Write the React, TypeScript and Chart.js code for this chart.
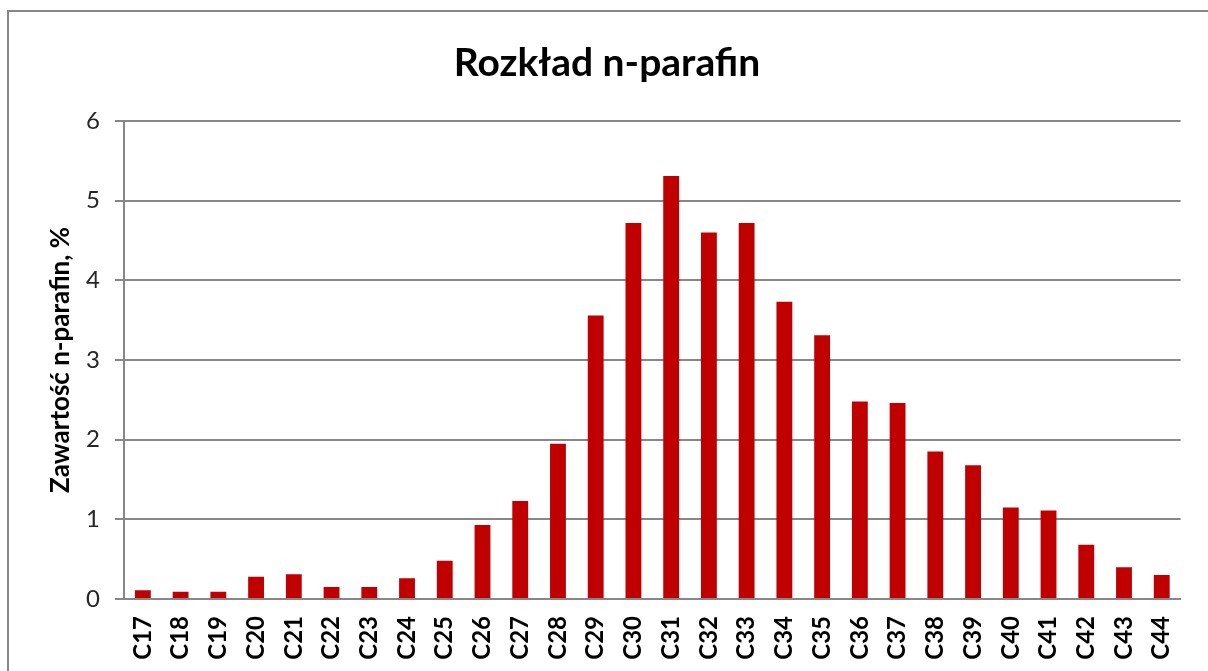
import React, { useEffect, useRef } from "react";
import { Chart, registerables } from "chart.js";

Chart.register(...registerables);

const categories = [
  "C17", "C18", "C19", "C20", "C21", "C22", "C23", "C24", "C25", "C26",
  "C27", "C28", "C29", "C30", "C31", "C32", "C33", "C34", "C35", "C36",
  "C37", "C38", "C39", "C40", "C41", "C42", "C43", "C44",
];
const values = [
  0.11, 0.09, 0.09, 0.28, 0.31, 0.15, 0.15, 0.26, 0.48, 0.93,
  1.23, 1.95, 3.56, 4.72, 5.31, 4.60, 4.72, 3.73, 3.31, 2.48,
  2.46, 1.85, 1.68, 1.15, 1.11, 0.68, 0.40, 0.30,
];
const titleText = "Rozkład n-parafin";
const yTitleText = "Zawartość n-parafin, %";
const yMin = 0;
const yMax = 6;
const yStep = 1;

const FONT = "Lato, 'Open Sans', sans-serif";
const GRID = "#878787";

export default function App() {
  const ref = useRef<HTMLCanvasElement | null>(null);

  useEffect(() => {
    if (!ref.current) return;
    const chart = new Chart(ref.current, {
      type: "bar",
      data: {
        labels: categories,
        datasets: [
          {
            data: values,
            backgroundColor: "#C00000",
            borderWidth: 0,
            barPercentage: 0.42,
            categoryPercentage: 1,
          },
        ],
      },
      options: {
        animation: false,
        responsive: false,
        maintainAspectRatio: false,
        layout: { padding: { left: 32, right: 26, top: 0, bottom: 0 } },
        plugins: {
          legend: { display: false },
          tooltip: { enabled: false },
          title: {
            display: true,
            text: titleText,
            color: "#000",
            font: { family: FONT, size: 39, weight: "bold", lineHeight: 1 },
            padding: { top: 44, bottom: 38 },
          },
        },
        scales: {
          x: {
            grid: { display: false, drawTicks: false, tickLength: 0 },
            border: { display: true, color: GRID, width: 2 },
            ticks: {
              color: "#000",
              font: { family: FONT, size: 24, weight: "bold" },
              minRotation: 90,
              maxRotation: 90,
              padding: 17,
              autoSkip: false,
            },
            afterFit: (s: any) => {
              s.height = 72;
            },
          },
          y: {
            min: yMin,
            max: yMax,
            grid: { color: GRID, lineWidth: 2, tickLength: 9, drawTicks: true },
            border: { display: true, color: GRID, width: 2 },
            ticks: {
              stepSize: yStep,
              color: "#262626",
              font: { family: FONT, size: 24 },
              padding: 15,
            },
            title: {
              display: true,
              text: yTitleText,
              color: "#000",
              font: { family: FONT, size: 26, weight: "bold", lineHeight: 1.2 },
              padding: { top: 13, bottom: 0 },
            },
            afterFit: (s: any) => {
              s.width = 92;
            },
          },
        },
      },
    });
    return () => chart.destroy();
  }, []);

  return (
    <div
      style={{
        position: "absolute",
        left: 0,
        top: 0,
        width: 1208,
        height: 671,
        overflow: "hidden",
        background: "#fff",
      }}
    >
      <div
        style={{
          position: "absolute",
          left: 7,
          top: 10,
          width: 1300,
          height: 800,
          border: `2px solid ${GRID}`,
          boxSizing: "border-box",
        }}
      />
      <canvas
        ref={ref}
        width={1208}
        height={671}
        style={{ position: "absolute", left: 0, top: 0, width: 1208, height: 671 }}
      />
    </div>
  );
}
